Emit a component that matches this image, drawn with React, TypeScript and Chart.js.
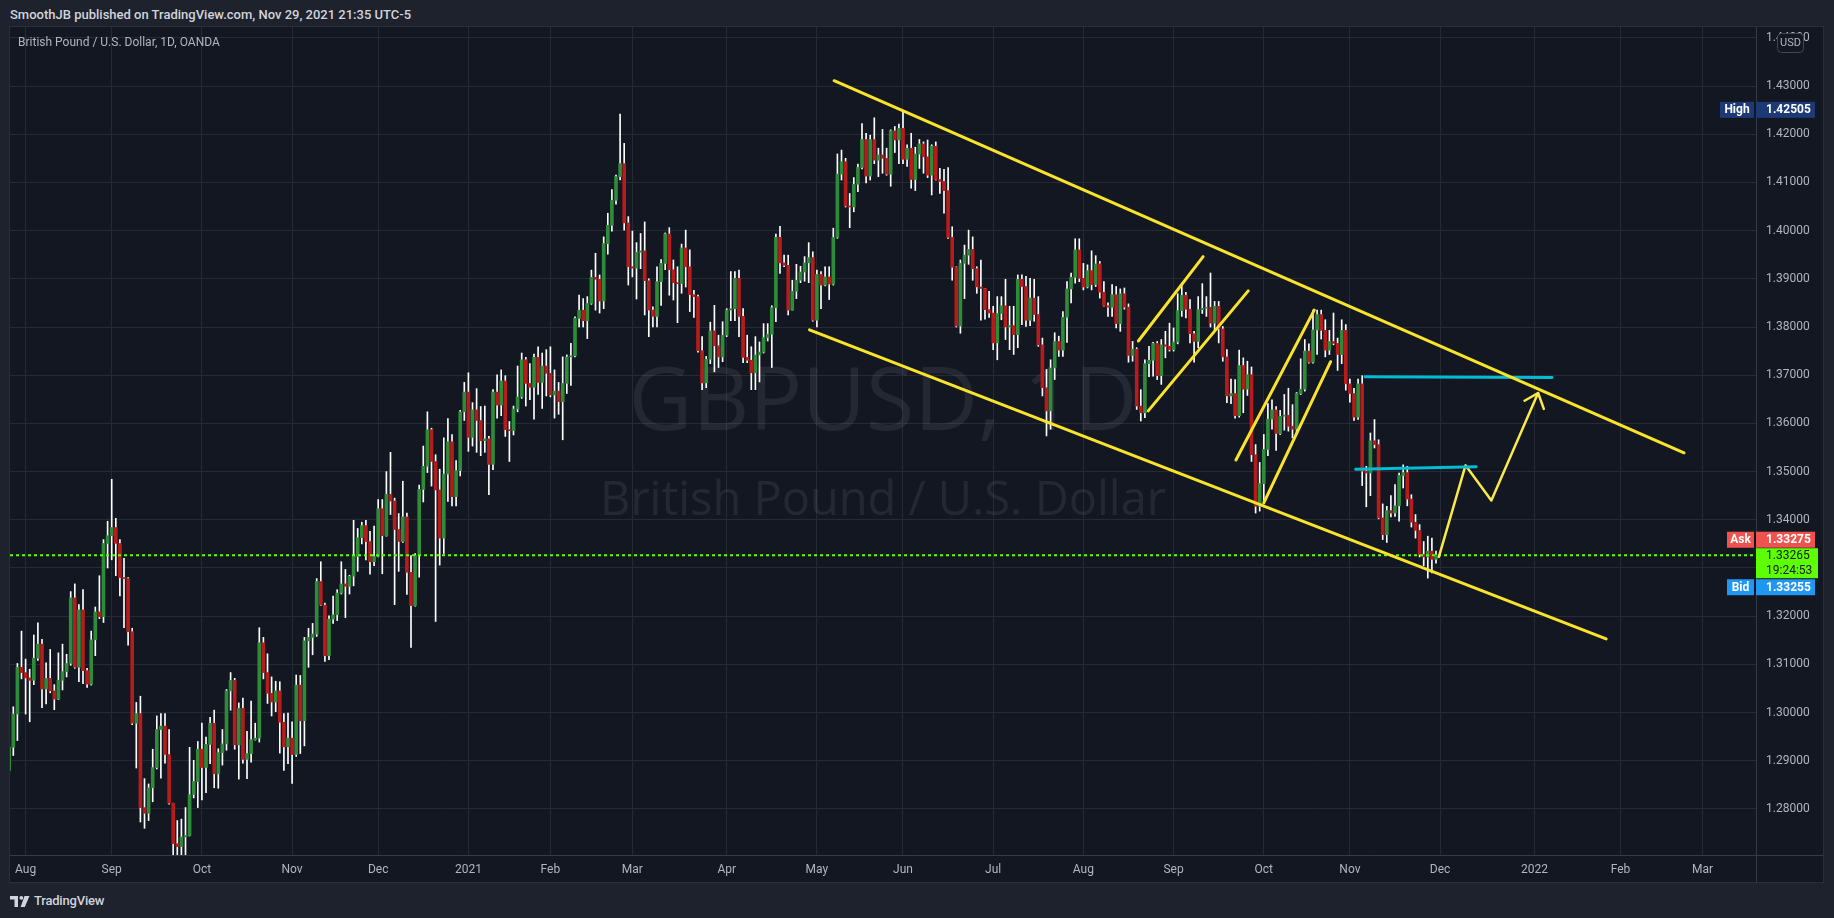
import React, { useEffect, useRef } from "react";
import { Chart, registerables } from "chart.js";

Chart.register(...registerables);

// ---------- DATA (prices in 1/10000 of a dollar, daily bars from 28 Jul 2020 to 30 Nov 2021) ----------
const OPEN = [
  12880,12928,12997,13094,13083,13072,13067,13113,13142,13049,
  13071,13045,13028,13067,13085,13102,13238,13094,13213,13087,
  13059,13151,13209,13199,13351,13367,13384,13351,13280,13278,
  13168,12978,12998,12803,12791,12844,12886,12965,12972,12913,
  12812,12728,12722,12742,12745,12830,12857,12924,12886,12934,
  12978,12873,12917,12935,13045,13067,12933,13009,12903,12915,
  12944,12947,13145,13083,13040,13022,13045,12980,12929,12947,
  12913,13057,12983,13149,13156,13163,13272,13223,13118,13194,
  13203,13248,13267,13262,13283,13324,13363,13388,13355,13313,
  13324,13423,13367,13453,13439,13380,13355,13406,13291,13222,
  13326,13463,13511,13587,13521,13462,13362,13495,13562,13448,
  13502,13624,13665,13571,13628,13606,13564,13568,13515,13665,
  13638,13688,13587,13585,13630,13655,13732,13683,13675,13737,
  13685,13719,13704,13659,13667,13645,13683,13738,13740,13818,
  13835,13813,13849,13903,13899,13854,13973,14011,14063,14112,
  14139,14016,13925,13922,13955,13958,13896,13835,13822,13894,
  13932,13993,13919,13892,13890,13964,13925,13867,13863,13751,
  13684,13733,13792,13761,13738,13783,13835,13838,13901,13822,
  13737,13731,13705,13742,13748,13778,13785,13840,13986,13933,
  13928,13835,13874,13897,13914,13933,13944,13814,13909,13887,
  13904,13889,13986,14117,14143,14051,14049,14096,14131,14189,
  14113,14189,14146,14157,14150,14117,14207,14188,14212,14148,
  14171,14106,14159,14180,14153,14115,14175,14106,14102,14083,
  13986,13924,13802,13932,13949,13961,13921,13883,13880,13836,
  13829,13767,13828,13844,13800,13803,13784,13899,13884,13814,
  13860,13826,13763,13674,13626,13715,13770,13752,13820,13879,
  13903,13960,13901,13883,13917,13888,13931,13872,13844,13841,
  13867,13807,13869,13841,13741,13754,13636,13622,13724,13731,
  13766,13699,13763,13760,13753,13769,13834,13866,13837,13786,
  13770,13836,13839,13841,13808,13843,13796,13738,13657,13662,
  13616,13720,13671,13701,13535,13428,13475,13546,13609,13628,
  13579,13615,13617,13594,13588,13662,13671,13750,13727,13794,
  13826,13793,13752,13770,13766,13743,13793,13682,13662,13613,
  13682,13501,13497,13564,13556,13404,13369,13419,13414,13429,
  13492,13498,13443,13395,13378,13328,13323,13335,13318,
];
const HIGH = [
  12935,13012,13102,13169,13111,13090,13161,13186,13152,13103,
  13131,13058,13124,13142,13121,13251,13267,13224,13255,13092,
  13169,13219,13284,13359,13397,13484,13403,13359,13320,13280,
  13175,13021,13034,12863,12852,12924,12993,12998,12998,12965,
  12812,12776,12779,12803,12928,12901,12940,12978,12949,12990,
  13005,12925,12965,13048,13083,13071,13020,13030,12961,13024,
  12978,13176,13156,13122,13074,13065,13064,12998,12999,12981,
  13078,13077,13156,13175,13185,13278,13313,13227,13201,13242,
  13255,13313,13297,13285,13399,13382,13395,13399,13376,13387,
  13442,13442,13500,13540,13445,13413,13480,13414,13326,13330,
  13472,13553,13624,13590,13535,13505,13570,13610,13577,13523,
  13627,13685,13705,13643,13672,13635,13636,13573,13670,13701,
  13711,13699,13604,13636,13719,13746,13737,13724,13744,13759,
  13746,13753,13759,13711,13685,13738,13742,13766,13821,13866,
  13859,13863,13918,13953,13908,13987,14036,14085,14115,14242,
  14181,14029,13999,13975,13994,14018,13900,13842,13925,13940,
  13995,14006,13939,13925,13972,14001,13960,13876,13866,13780,
  13739,13810,13845,13783,13811,13838,13915,13915,13918,13838,
  13783,13759,13780,13769,13807,13807,13844,13993,14009,13949,
  13949,13897,13930,13926,13946,13975,13956,13918,13915,13925,
  13925,14005,14159,14167,14150,14077,14110,14138,14222,14202,
  14198,14234,14171,14210,14171,14209,14216,14221,14249,14178,
  14202,14173,14189,14184,14188,14178,14184,14129,14127,14131,
  14008,13925,13939,13970,14001,13987,13925,13939,13880,13874,
  13843,13863,13863,13899,13843,13843,13908,13908,13905,13901,
  13899,13863,13777,13712,13732,13788,13781,13832,13894,13912,
  13983,13983,13932,13929,13958,13948,13936,13894,13850,13888,
  13884,13879,13881,13848,13770,13757,13670,13732,13760,13768,
  13770,13774,13791,13808,13798,13869,13891,13872,13857,13791,
  13863,13890,13863,13912,13853,13853,13801,13753,13692,13691,
  13752,13736,13729,13717,13556,13519,13577,13641,13649,13635,
  13627,13660,13673,13639,13664,13734,13774,13765,13835,13835,
  13835,13815,13793,13829,13777,13815,13805,13692,13673,13692,
  13699,13511,13580,13608,13566,13433,13428,13450,13473,13497,
  13514,13511,13452,13411,13390,13355,13366,13362,13335,
];
const LOW = [
  12870,12911,12942,13070,12997,12981,13058,13108,13010,13018,
  13041,13006,13027,13047,13074,13098,13092,13064,13060,13052,
  13057,13118,13195,13187,13300,13317,13284,13242,13176,13140,
  12975,12885,12773,12760,12776,12815,12883,12864,12895,12810,
  12690,12676,12690,12700,12744,12823,12803,12819,12834,12894,
  12844,12843,12891,12922,13005,12924,12862,12895,12863,12897,
  12943,12939,13070,13019,12993,13002,12916,12880,12894,12853,
  12909,12915,12931,13094,13120,13158,13222,13106,13110,13185,
  13191,13246,13197,13246,13263,13293,13350,13317,13287,13305,
  13323,13288,13366,13411,13224,13293,13353,13245,13135,13221,
  13281,13437,13498,13470,13189,13306,13330,13438,13429,13429,
  13491,13606,13542,13553,13540,13533,13540,13452,13504,13611,
  13616,13573,13521,13576,13624,13652,13636,13649,13609,13660,
  13631,13657,13655,13611,13619,13566,13662,13679,13738,13800,
  13800,13776,13847,13835,13829,13838,13951,13999,14055,14105,
  14001,13887,13904,13858,13921,13825,13780,13800,13800,13845,
  13919,13866,13856,13809,13870,13883,13832,13820,13748,13670,
  13674,13724,13707,13716,13728,13780,13813,13813,13780,13726,
  13726,13670,13670,13686,13746,13771,13716,13811,13911,13925,
  13825,13835,13859,13892,13895,13892,13812,13800,13838,13885,
  13857,13887,13984,14105,14049,14006,14039,14081,14128,14099,
  14105,14139,14112,14119,14115,14092,14162,14139,14139,14133,
  14088,14083,14129,14119,14110,14074,14105,14077,14036,13984,
  13897,13800,13787,13859,13930,13897,13870,13814,13816,13820,
  13753,13732,13815,13774,13753,13743,13757,13805,13801,13803,
  13812,13760,13657,13574,13588,13691,13739,13739,13768,13850,
  13891,13894,13877,13881,13877,13884,13860,13843,13822,13822,
  13798,13791,13837,13727,13729,13629,13605,13612,13697,13698,
  13691,13681,13736,13750,13750,13765,13822,13819,13767,13727,
  13757,13828,13822,13800,13794,13767,13729,13643,13641,13611,
  13613,13622,13658,13521,13414,13418,13435,13533,13588,13544,
  13577,13586,13584,13570,13579,13660,13667,13725,13725,13743,
  13775,13738,13743,13763,13710,13724,13669,13644,13606,13608,
  13471,13427,13450,13549,13402,13359,13353,13406,13407,13397,
  13466,13429,13385,13362,13323,13305,13279,13290,13310,
];
const CLOSE = [
  12928,12997,13094,13083,13072,13067,13113,13142,13049,13071,
  13045,13028,13067,13085,13102,13238,13094,13213,13087,13059,
  13151,13209,13199,13351,13367,13384,13351,13280,13278,13168,
  12978,12998,12803,12791,12844,12886,12965,12972,12913,12812,
  12728,12722,12742,12745,12830,12857,12924,12886,12934,12978,
  12873,12917,12935,13045,13067,12933,13009,12903,12915,12944,
  12947,13145,13083,13040,13022,13045,12980,12929,12947,12913,
  13057,12983,13149,13156,13163,13272,13223,13118,13194,13203,
  13248,13267,13262,13283,13324,13363,13388,13355,13313,13324,
  13423,13367,13453,13439,13380,13355,13406,13291,13222,13326,
  13463,13511,13587,13521,13462,13362,13495,13562,13448,13502,
  13624,13665,13571,13628,13606,13564,13568,13515,13665,13638,
  13688,13587,13585,13630,13655,13732,13683,13675,13737,13685,
  13719,13704,13659,13667,13645,13683,13738,13740,13818,13835,
  13813,13849,13903,13899,13854,13973,14011,14063,14112,14139,
  14016,13925,13922,13955,13958,13896,13835,13822,13894,13932,
  13993,13919,13892,13890,13964,13925,13867,13863,13751,13684,
  13733,13792,13761,13738,13783,13835,13838,13901,13822,13737,
  13731,13705,13742,13748,13778,13785,13840,13986,13933,13928,
  13835,13874,13897,13914,13933,13944,13814,13909,13887,13904,
  13889,13986,14117,14143,14051,14049,14096,14131,14189,14113,
  14189,14146,14157,14150,14117,14207,14188,14212,14148,14171,
  14106,14159,14180,14153,14115,14175,14106,14102,14083,13986,
  13924,13802,13932,13949,13961,13921,13883,13880,13836,13829,
  13767,13828,13844,13800,13803,13784,13899,13884,13814,13860,
  13826,13763,13674,13626,13715,13770,13752,13820,13879,13903,
  13960,13901,13883,13917,13888,13931,13872,13844,13841,13867,
  13807,13869,13841,13741,13754,13636,13622,13724,13731,13766,
  13699,13763,13760,13753,13769,13834,13866,13837,13786,13770,
  13836,13839,13841,13808,13843,13796,13738,13657,13662,13616,
  13720,13671,13701,13535,13428,13475,13546,13609,13628,13579,
  13615,13617,13594,13588,13662,13671,13750,13727,13794,13826,
  13793,13752,13770,13766,13743,13793,13682,13662,13613,13682,
  13501,13497,13564,13556,13404,13369,13419,13414,13429,13492,
  13498,13443,13395,13378,13328,13323,13335,13318,13327,
];
const PRICE_UNIT = 10000;

// time axis: bar index of the first trading day of each month, and its label
const MONTH_TICKS = [4, 25, 47, 69, 90, 112, 132, 152, 175, 197, 218, 240, 262, 284, 306, 327, 349, 372, 393, 413];
const MONTH_LABELS = ["Aug", "Sep", "Oct", "Nov", "Dec", "2021", "Feb", "Mar", "Apr", "May", "Jun", "Jul", "Aug", "Sep", "Oct", "Nov", "Dec", "2022", "Feb", "Mar"];
const PRICE_TICKS = [1.28, 1.29, 1.3, 1.31, 1.32, 1.33, 1.34, 1.35, 1.36, 1.37, 1.38, 1.39, 1.4, 1.41, 1.42, 1.43, 1.44];
const X_MIN = 0.195;
const X_MAX = 426.05;
const Y_MIN = 1.270456;
const Y_MAX = 1.442241;

// price-scale markers
const HIGH_MARK = 1.42505;
const ASK = 1.33275;
const LAST = 1.33265;
const BID = 1.33255;
const COUNTDOWN = "19:24:53";

// drawings (bar index, price)
const UPPER_CHANNEL = [{ x: 201.2, y: 1.4311 }, { x: 408.5, y: 1.3539 }];
const LOWER_CHANNEL = [{ x: 195.2, y: 1.3794 }, { x: 389.5, y: 1.3153 }];
const FLAG1_TOP = [{ x: 275.4, y: 1.3771 }, { x: 291.2, y: 1.3946 }];
const FLAG1_BOTTOM = [{ x: 277.8, y: 1.3626 }, { x: 302.2, y: 1.3875 }];
const FLAG2_TOP = [{ x: 299.2, y: 1.3524 }, { x: 318.3, y: 1.3835 }];
const FLAG2_BOTTOM = [{ x: 306.0, y: 1.3435 }, { x: 322.3, y: 1.3728 }];
const RESIST_UPPER = [{ x: 330.7, y: 1.3697 }, { x: 376.3, y: 1.3695 }];
const RESIST_LOWER = [{ x: 328.4, y: 1.3505 }, { x: 357.8, y: 1.3510 }];
const PROJECTION = [{ x: 348.7, y: 1.3323 }, { x: 355.2, y: 1.3513 }, { x: 361.5, y: 1.3440 }, { x: 372.9, y: 1.3663 }];
const ARROW_HEAD = [{ x: 369.6, y: 1.3647 }, { x: 372.9, y: 1.3663 }, { x: 374.3, y: 1.3630 }];

const WATERMARK_SYMBOL = "GBPUSD, 1D";
const WATERMARK_NAME = "British Pound / U.S. Dollar";

// ---------- STYLE ----------
const FONT = "Roboto, 'Noto Sans', sans-serif";
const BG_OUTER = "#1e222d";
const BG_PANE = "#131722";
const GRID = "#262a35";
const AXIS_TEXT = "#b2b5be";
const UP = "#2e8b3a";
const DOWN = "#b71c1c";
const YELLOW = "#f9e42b";
const CYAN = "#00bcd4";
const LIME = "#5eff00";
const PROJ = "#fbe94a";

function fitText(ctx: CanvasRenderingContext2D, text: string, width: number, family: string, cx: number, baseline: number) {
  ctx.font = `100px ${family}`;
  const w = ctx.measureText(text).width;
  const size = (100 * width) / w;
  ctx.font = `${size}px ${family}`;
  ctx.fillText(text, cx, baseline);
}

const decorPlugin = {
  id: "decor",
  beforeDatasetsDraw(chart: any) {
    const { ctx, chartArea } = chart;
    ctx.save();
    ctx.beginPath();
    ctx.rect(chartArea.left, chartArea.top, chartArea.right - chartArea.left, chartArea.bottom - chartArea.top);
    ctx.clip();
    ctx.fillStyle = "rgba(255,255,255,0.075)";
    ctx.textAlign = "center";
    ctx.textBaseline = "alphabetic";
    const cx = (chartArea.left + chartArea.right) / 2;
    fitText(ctx, WATERMARK_SYMBOL, 509, "'Open Sans'", cx, 403);
    fitText(ctx, WATERMARK_NAME, 566, "'Open Sans'", cx, 488);
    ctx.restore();
  },
  afterDraw(chart: any) {
    const { ctx, chartArea } = chart;
    const ys = chart.scales.y;
    const W = chart.width;
    const H = chart.height;
    const R = chartArea.right;
    ctx.save();
    // pane separators
    ctx.strokeStyle = "#363a45";
    ctx.lineWidth = 1;
    ctx.beginPath();
    ctx.moveTo(Math.round(R) + 0.5, 0);
    ctx.lineTo(Math.round(R) + 0.5, H);
    ctx.moveTo(0, Math.round(chartArea.bottom) + 0.5);
    ctx.lineTo(W, Math.round(chartArea.bottom) + 0.5);
    ctx.stroke();

    const txt = (s: string, x: number, y: number, color: string, weight: string, align: CanvasTextAlign = "left") => {
      ctx.fillStyle = color;
      ctx.font = `${weight} 12px ${FONT}`;
      ctx.textAlign = align;
      ctx.textBaseline = "middle";
      ctx.fillText(s, x, y);
    };

    // High marker
    const yh = ys.getPixelForValue(HIGH_MARK);
    ctx.fillStyle = "#1d3a76";
    ctx.fillRect(R - 36, yh - 8, 34, 16);
    ctx.fillRect(R, yh - 8, 59, 16);
    txt("High", R - 19, yh + 0.5, "#ffffff", "bold", "center");
    txt(HIGH_MARK.toFixed(5), R + 10, yh + 0.5, "#ffffff", "bold");

    // Ask / Last / Bid stack
    const yc = ys.getPixelForValue(LAST);
    const askTop = yc - 23.5;
    ctx.fillStyle = "#ef5350";
    ctx.fillRect(R - 29, askTop, 27, 16);
    ctx.fillRect(R, askTop, 59, 16);
    txt("Ask", R - 15.5, askTop + 8.5, "#ffffff", "bold", "center");
    txt(ASK.toFixed(5), R + 10, askTop + 8.5, "#ffffff", "bold");

    const curTop = yc - 7;
    ctx.fillStyle = LIME;
    ctx.fillRect(R, curTop, 62, 30);
    txt(LAST.toFixed(5), R + 10, curTop + 8, "#131722", "normal");
    txt(COUNTDOWN, R + 10, curTop + 22.5, "#131722", "normal");

    const bidTop = curTop + 31;
    ctx.fillStyle = "#2196f3";
    ctx.fillRect(R - 29, bidTop, 27, 16);
    ctx.fillRect(R, bidTop, 59, 16);
    txt("Bid", R - 15.5, bidTop + 8.5, "#ffffff", "bold", "center");
    txt(BID.toFixed(5), R + 10, bidTop + 8.5, "#ffffff", "bold");

    // currency badge
    const bx = R + 21, by = 6, bw = 26, bh = 19;
    ctx.fillStyle = BG_PANE;
    ctx.strokeStyle = "#434651";
    ctx.beginPath();
    (ctx as any).roundRect(bx + 0.5, by + 0.5, bw, bh, 4);
    ctx.fill();
    ctx.stroke();
    ctx.fillStyle = AXIS_TEXT;
    ctx.font = `11px ${FONT}`;
    ctx.textAlign = "center";
    ctx.textBaseline = "middle";
    ctx.fillText("USD", bx + bw / 2 + 0.5, by + bh / 2 + 1);
    ctx.restore();
  },
};

function lineSet(data: { x: number; y: number }[], color: string, width: number, order: number, dash: number[] = []) {
  return {
    type: "line" as const,
    data,
    borderColor: color,
    borderWidth: width,
    borderDash: dash,
    borderCapStyle: "round",
    borderJoinStyle: "round",
    pointRadius: 0,
    tension: 0,
    fill: false,
    order,
    clip: 0,
  };
}

export default function App() {
  const ref = useRef<HTMLCanvasElement>(null);

  useEffect(() => {
    if (!ref.current) return;
    const idx = CLOSE.map((_, i) => i);
    const bodies = idx.map((i) => ({ x: i, y: [OPEN[i] / PRICE_UNIT, CLOSE[i] / PRICE_UNIT] }));
    const wicks = idx.map((i) => ({ x: i, y: [LOW[i] / PRICE_UNIT, HIGH[i] / PRICE_UNIT] }));
    const lastLine = [{ x: X_MIN, y: LAST }, { x: X_MAX, y: LAST }];

    const chart = new Chart(ref.current, {
      type: "bar",
      data: {
        datasets: [
          {
            type: "bar",
            data: bodies as any,
            backgroundColor: (c: any) => (CLOSE[c.dataIndex] >= OPEN[c.dataIndex] ? UP : DOWN),
            barThickness: 3,
            minBarLength: 1,
            grouped: false,
            borderWidth: 0,
            order: 5,
            clip: 0,
          } as any,
          {
            type: "bar",
            data: wicks as any,
            backgroundColor: "#ffffff",
            barThickness: 1,
            grouped: false,
            borderWidth: 0,
            order: 6,
            clip: 0,
          } as any,
          { ...lineSet(lastLine, LIME, 2, 4, [3, 3]), borderCapStyle: "butt" } as any,
          lineSet(UPPER_CHANNEL, YELLOW, 3, 1) as any,
          lineSet(LOWER_CHANNEL, YELLOW, 3, 1) as any,
          lineSet(FLAG1_TOP, YELLOW, 3, 1) as any,
          lineSet(FLAG1_BOTTOM, YELLOW, 3, 1) as any,
          lineSet(FLAG2_TOP, YELLOW, 3, 1) as any,
          lineSet(FLAG2_BOTTOM, YELLOW, 3, 1) as any,
          lineSet(RESIST_UPPER, CYAN, 3, 1) as any,
          lineSet(RESIST_LOWER, CYAN, 3, 1) as any,
          lineSet(PROJECTION, PROJ, 2.5, 1) as any,
          lineSet(ARROW_HEAD, PROJ, 2.5, 1) as any,
        ],
      },
      options: {
        animation: false,
        responsive: false,
        maintainAspectRatio: false,
        layout: { padding: 0 },
        events: [],
        plugins: { legend: { display: false }, tooltip: { enabled: false }, title: { display: false } },
        scales: {
          x: {
            type: "linear",
            min: X_MIN,
            max: X_MAX,
            offset: false,
            grid: { color: GRID, drawTicks: false, offset: false, lineWidth: 1 },
            border: { display: false },
            ticks: {
              color: AXIS_TEXT,
              font: { size: 12, family: FONT },
              padding: 8,
              autoSkip: false,
              maxRotation: 0,
              minRotation: 0,
              callback: (_v: any, i: number) => MONTH_LABELS[i],
            },
            afterBuildTicks: (s: any) => {
              s.ticks = MONTH_TICKS.map((v) => ({ value: v }));
            },
            afterFit: (s: any) => {
              s.height = 27;
              s.paddingLeft = 0;
              s.paddingRight = 0;
            },
          },
          y: {
            type: "linear",
            position: "right",
            min: Y_MIN,
            max: Y_MAX,
            grid: { color: GRID, drawTicks: false, lineWidth: 1 },
            border: { display: false },
            ticks: {
              color: AXIS_TEXT,
              font: { size: 12, family: FONT },
              padding: 10,
              autoSkip: false,
              callback: (v: any) => Number(v).toFixed(5),
            },
            afterBuildTicks: (s: any) => {
              s.ticks = PRICE_TICKS.map((v) => ({ value: v }));
            },
            afterFit: (s: any) => {
              s.width = 67;
              s.paddingTop = 0;
              s.paddingBottom = 0;
            },
          },
        },
      } as any,
      plugins: [decorPlugin as any],
    });
    return () => chart.destroy();
  }, []);

  return (
    <div style={{ position: "fixed", left: 0, top: 0, width: 1834, height: 918, background: BG_OUTER, overflow: "hidden", fontFamily: FONT }}>
      <div style={{ position: "absolute", left: 10, top: 7, fontSize: 13, fontWeight: 500, color: "#d1d4dc", whiteSpace: "nowrap", lineHeight: "16px" }}>
        SmoothJB published on TradingView.com, Nov 29, 2021 21:35 UTC-5
      </div>
      <div style={{ position: "absolute", left: 9, top: 26, width: 1813, height: 855, border: "1px solid #2a2e39", background: BG_PANE }}>
        <canvas ref={ref} width={1813} height={855} style={{ display: "block", width: 1813, height: 855 }} />
        <div style={{ position: "absolute", left: 8, top: 7, fontSize: 12, color: AXIS_TEXT, whiteSpace: "nowrap", lineHeight: "16px" }}>
          British Pound / U.S. Dollar, 1D, OANDA
        </div>
      </div>
      <div style={{ position: "absolute", left: 10, top: 894, display: "flex", alignItems: "center", gap: 4 }}>
        <svg width="20" height="13" viewBox="0 0 20 13">
          <rect x="0" y="1" width="8" height="3.5" fill="#d1d4dc" />
          <rect x="4.5" y="1" width="3.5" height="11" fill="#d1d4dc" />
          <circle cx="11.3" cy="2.8" r="1.9" fill="#d1d4dc" />
          <polygon points="14.5,1 19.5,1 14.8,12 10.6,12" fill="#d1d4dc" />
        </svg>
        <span style={{ fontSize: 13, fontWeight: 500, color: "#d1d4dc", lineHeight: "14px", letterSpacing: -0.2 }}>TradingView</span>
      </div>
    </div>
  );
}
